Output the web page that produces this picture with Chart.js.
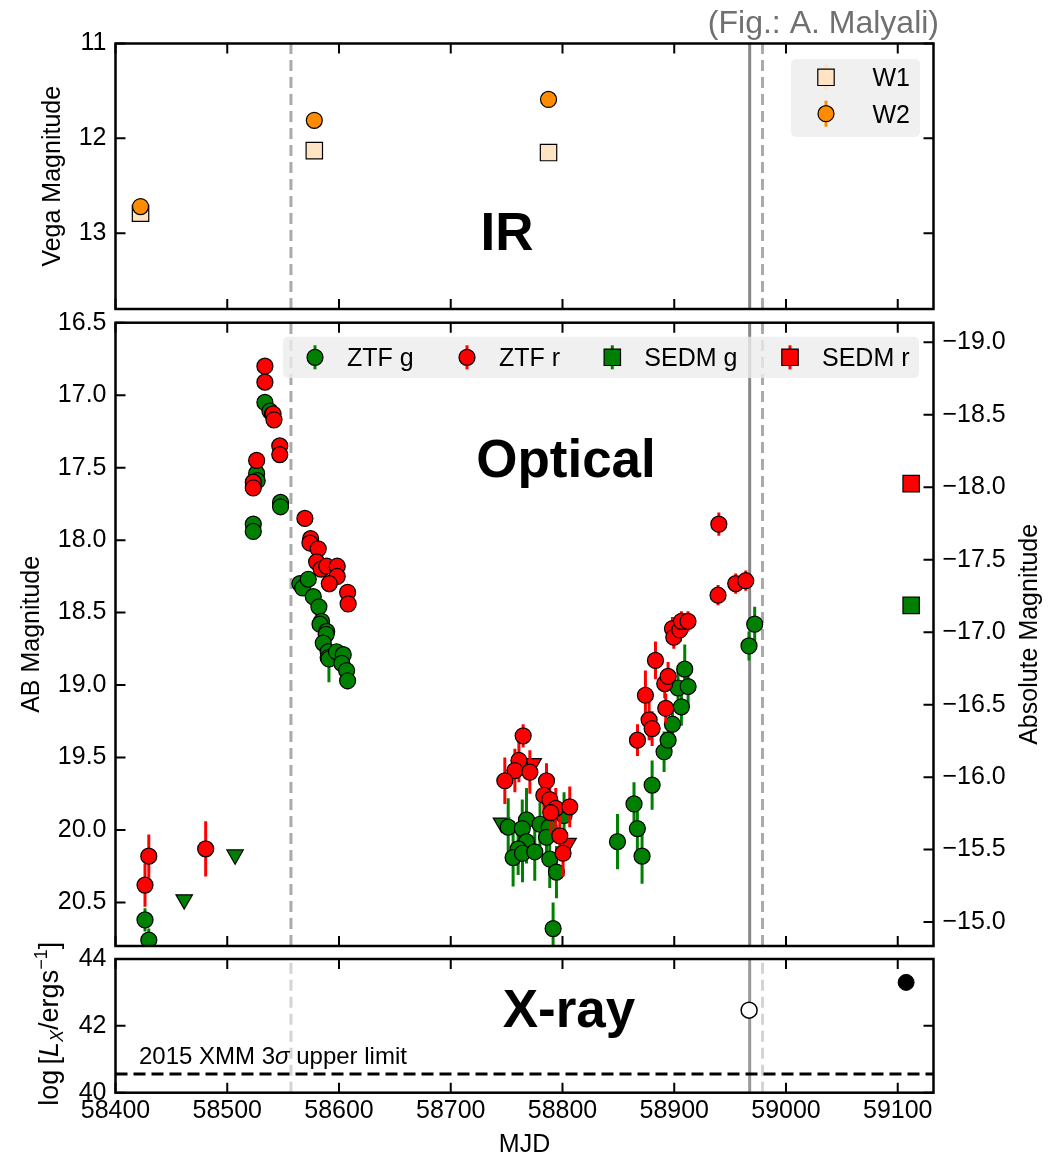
<!DOCTYPE html>
<html lang="en">
<head>
    <meta charset="UTF-8">
    <title>Multi-wavelength light curve</title>
    <script src="https://cdn.jsdelivr.net/npm/chart.js"></script>
    <style>
        body {
            margin: 0;
            background: #fff;
            overflow: hidden;
        }
        #wrap {
            position: relative;
            width: 1062px;
            height: 1156px;
        }
        canvas {
            position: absolute;
            left: 0;
        }
    </style>
</head>
<body>
<div id="wrap">
    <canvas id="irChart" width="1062" height="340" style="top:0px"></canvas>
    <canvas id="optChart" width="1062" height="690" style="top:290px"></canvas>
    <canvas id="xrayChart" width="1062" height="260" style="top:900px"></canvas>
</div>
<script>
// ---------------- data ----------------
const X_MIN = 58400, X_MAX = 59132;
const xTickValues = [58400, 58500, 58600, 58700, 58800, 58900, 59000, 59100];

// epochs marked by vertical lines
const dashedLineMJD = [58557, 58979];
const solidLineMJD = [58967.5];

// IR (WISE)
const irMJD = [58422.4, 58577.9, 58787.5];
const w1Mag = [12.79, 12.13, 12.15];
const w1Err = [0.03, 0.02, 0.02];
const w2Mag = [12.72, 11.81, 11.59];
const w2Err = [0.08, 0.03, 0.03];
const irRange = [11, 13.8];
const irTicks = [11, 12, 13];

// Optical (ZTF)
const ztfG_mjd = [58426.4, 58429.8, 58523.3, 58523.3, 58526.3, 58526.8, 58533.7, 58538.2, 58540.5, 58547.7, 58547.7,
    58565.0, 58567.5, 58572.5, 58577.0, 58582.0, 58584.4, 58583.0, 58589.0, 58588.5, 58585.9, 58590.3, 58590.3, 58591.0,
    58597.8, 58603.8, 58602.5, 58606.8, 58607.7,
    58751.4, 58767.8, 58764.0, 58779.9, 58788.0, 58785.7, 58767.8, 58760.3, 58755.8, 58764.2, 58775.2, 58788.6, 58794.6,
    58801.4, 58791.6,
    58849.2, 58864.0, 58867.0, 58871.2, 58880.2, 58890.9, 58894.5, 58898.4, 58903.4, 58906.4, 58909.4, 58912.4, 58966.9, 58972.0];
const ztfG_mag = [20.62, 20.76, 17.89, 17.94, 17.54, 17.59, 17.05, 17.11, 17.13, 17.74, 17.77,
    18.30, 18.33, 18.27, 18.39, 18.46, 18.56, 18.58, 18.63, 18.65, 18.71, 18.77, 18.81, 18.82,
    18.77, 18.79, 18.85, 18.90, 18.97,
    19.98, 19.93, 19.99, 19.96, 19.98, 20.05, 20.08, 20.13, 20.19, 20.16, 20.15, 20.20, 20.29,
    19.90, 20.68,
    20.08, 19.82, 19.99, 20.18, 19.69, 19.46, 19.38, 19.27, 19.02, 19.15, 18.89, 19.01, 18.73, 18.58];
const ztfG_err = [0.08, 0.08, 0.02, 0.02, 0.02, 0.02, 0.03, 0.02, 0.02, 0.02, 0.02,
    0.03, 0.03, 0.05, 0.03, 0.04, 0.04, 0.04, 0.04, 0.04, 0.05, 0.05, 0.06, 0.16,
    0.05, 0.06, 0.05, 0.05, 0.06,
    0.20, 0.22, 0.20, 0.15, 0.12, 0.15, 0.15, 0.18, 0.20, 0.20, 0.20, 0.20, 0.18,
    0.16, 0.18,
    0.19, 0.15, 0.15, 0.19, 0.17, 0.14, 0.13, 0.12, 0.13, 0.13, 0.17, 0.12, 0.10, 0.12];

const ztfR_mjd = [58426.4, 58429.8, 58480.7, 58533.7, 58533.7, 58541.0, 58541.8, 58547.0, 58547.0, 58526.3, 58523.3, 58523.3,
    58569.5, 58574.6, 58574.0, 58581.4, 58580.0, 58584.0, 58589.0, 58598.4, 58598.4, 58591.3, 58607.7, 58608.2,
    58764.8, 58761.0, 58757.4, 58770.8, 58748.4, 58785.7, 58783.3, 58788.6, 58794.0, 58806.5, 58789.5, 58797.6, 58800.5,
    58867.1, 58874.2, 58877.5, 58880.2, 58883.2, 58891.5, 58892.4, 58894.5, 58898.4, 58899.6, 58905.0, 58906.4, 58912.3,
    58939.2, 58939.9, 58955.0, 58964.0];
const ztfR_mag = [20.38, 20.18, 20.13, 16.80, 16.91, 17.13, 17.17, 17.35, 17.41, 17.45, 17.60, 17.64,
    17.85, 17.99, 18.02, 18.06, 18.15, 18.20, 18.18, 18.18, 18.25, 18.30, 18.36, 18.44,
    19.35, 19.52, 19.59, 19.60, 19.66, 19.66, 19.76, 19.79, 19.85, 19.84, 19.88, 20.04, 20.16,
    19.38, 19.07, 19.24, 19.30, 18.83, 18.99, 19.16, 18.94, 18.61, 18.67, 18.62, 18.56, 18.56,
    18.38, 17.89, 18.30, 18.28];
const ztfR_err = [0.15, 0.15, 0.19, 0.05, 0.03, 0.05, 0.04, 0.03, 0.03, 0.03, 0.03, 0.03,
    0.03, 0.05, 0.04, 0.04, 0.05, 0.05, 0.05, 0.04, 0.05, 0.06, 0.04, 0.04,
    0.08, 0.15, 0.15, 0.15, 0.16, 0.12, 0.12, 0.14, 0.14, 0.14, 0.14, 0.15, 0.16,
    0.11, 0.17, 0.14, 0.12, 0.13, 0.10, 0.10, 0.10, 0.08, 0.08, 0.08, 0.07, 0.07,
    0.07, 0.08, 0.07, 0.07];

// upper limits
const limG_mjd = [58461.5, 58507.0, 58745.4];
const limG_mag = [20.48, 20.17, 19.95];
const limR_mjd = [58773.8, 58805.0];
const limR_mag = [19.54, 20.09];

// SEDM
const sedmMJD = [59112];
const sedmG_mag = [18.45];
const sedmG_err = [0.02];
const sedmR_mag = [17.61];
const sedmR_err = [0.04];

const optRange = [16.5, 20.8];
const optTicks = [16.5, 17.0, 17.5, 18.0, 18.5, 19.0, 19.5, 20.0, 20.5];
const distMod = 35.635;
const absTicks = [-19.0, -18.5, -18.0, -17.5, -17.0, -16.5, -16.0, -15.5, -15.0];

// X-ray
const xrayOpenMJD = [58967.0];
const xrayOpenL = [42.47];
const xrayDetMJD = [59107.5];
const xrayDetL = [43.30];
const xmmLimit = 40.56;
const xrayRange = [40, 44];
const xrayTicks = [40, 42, 44];

// ---------------- helpers ----------------
const FAM = '"Liberation Sans", Arial, Helvetica, sans-serif';
Chart.defaults.font.family = FAM;
Chart.defaults.color = '#000';

const DOT = 8;      // circle radius
const BOX = 11.6;   // square "radius"

const pts = (xs, ys) => xs.map((x, i) => ({ x: x, y: ys[i] }));
const setTicks = values => scale => { scale.ticks = values.map(v => ({ value: v })); };

// vertical error bars, drawn just before each dataset's markers
const errorBarPlugin = {
    id: 'errorBars',
    beforeDatasetDraw(chart, args) {
        const ds = chart.data.datasets[args.index];
        if (!ds.errors) return;
        const { ctx, chartArea: a } = chart;
        const xs = chart.scales.x, ys = chart.scales[ds.yAxisID || 'y'];
        ctx.save();
        ctx.beginPath();
        ctx.rect(a.left, a.top, a.right - a.left, a.bottom - a.top);
        ctx.clip();
        ctx.strokeStyle = ds.errColor;
        ctx.lineWidth = 3;
        ctx.beginPath();
        ds.data.forEach((p, i) => {
            const e = ds.errors[i];
            if (!e) return;
            const px = xs.getPixelForValue(p.x);
            ctx.moveTo(px, ys.getPixelForValue(p.y - e));
            ctx.lineTo(px, ys.getPixelForValue(p.y + e));
        });
        ctx.stroke();
        ctx.restore();
    }
};
Chart.register(errorBarPlugin);

function marker(ctx, shape, x, y, r, fill, errColor, errLen) {
    ctx.save();
    if (errLen) {
        ctx.strokeStyle = errColor;
        ctx.lineWidth = 3;
        ctx.beginPath();
        ctx.moveTo(x, y - errLen);
        ctx.lineTo(x, y + errLen);
        ctx.stroke();
    }
    ctx.fillStyle = fill;
    ctx.strokeStyle = '#000';
    ctx.lineWidth = 1.2;
    ctx.beginPath();
    if (shape === 'rect') {
        const s = r * Math.SQRT1_2;
        ctx.rect(x - s, y - s, 2 * s, 2 * s);
    } else {
        ctx.arc(x, y, r, 0, Math.PI * 2);
    }
    ctx.fill();
    ctx.stroke();
    ctx.restore();
}

function legendBox(ctx, x, y, w, h) {
    ctx.save();
    ctx.fillStyle = 'rgba(236,236,236,0.8)';
    ctx.beginPath();
    if (ctx.roundRect) ctx.roundRect(x, y, w, h, 5); else ctx.rect(x, y, w, h);
    ctx.fill();
    ctx.restore();
}

function text(ctx, str, x, y, font, align, color) {
    ctx.save();
    ctx.font = font;
    ctx.textAlign = align || 'left';
    ctx.textBaseline = 'alphabetic';
    ctx.fillStyle = color || '#000';
    ctx.fillText(str, x, y);
    ctx.restore();
}

// epoch lines, frame, inward ticks and extra drawing for one panel
function decor(o) {
    return {
        id: 'decor',
        beforeDatasetsDraw(chart) {
            const { ctx, chartArea: a } = chart;
            const xs = chart.scales.x;
            ctx.save();
            ctx.lineWidth = 3;
            ctx.strokeStyle = o.dashColor;
            ctx.setLineDash([11, 6]);
            dashedLineMJD.forEach(m => {
                const px = xs.getPixelForValue(m);
                ctx.beginPath(); ctx.moveTo(px, a.bottom); ctx.lineTo(px, a.top); ctx.stroke();
            });
            ctx.setLineDash([]);
            ctx.strokeStyle = o.solidColor;
            solidLineMJD.forEach(m => {
                const px = xs.getPixelForValue(m);
                ctx.beginPath(); ctx.moveTo(px, a.bottom); ctx.lineTo(px, a.top); ctx.stroke();
            });
            ctx.restore();
        },
        afterDatasetsDraw(chart) {
            const { ctx, chartArea: a } = chart;
            const xs = chart.scales.x;
            const L = chart.scales[o.left.id], R = chart.scales[o.right.id];
            ctx.save();
            ctx.strokeStyle = '#000';
            ctx.lineWidth = 2;
            ctx.beginPath();
            xTickValues.forEach(v => {
                const px = xs.getPixelForValue(v);
                ctx.moveTo(px, a.top); ctx.lineTo(px, a.top + 10);
                ctx.moveTo(px, a.bottom); ctx.lineTo(px, a.bottom - 10);
            });
            o.left.ticks.forEach(v => {
                const py = L.getPixelForValue(v);
                ctx.moveTo(a.left, py); ctx.lineTo(a.left + 10, py);
            });
            o.right.ticks.forEach(v => {
                const py = R.getPixelForValue(v);
                ctx.moveTo(a.right, py); ctx.lineTo(a.right - 10, py);
            });
            ctx.stroke();
            ctx.lineWidth = 2.5;
            ctx.strokeRect(a.left, a.top, a.right - a.left, a.bottom - a.top);
            ctx.restore();
            if (o.draw) o.draw(chart, ctx, a);
        }
    };
}

function common(padding) {
    return {
        responsive: false,
        animation: false,
        devicePixelRatio: 1,
        events: [],
        layout: { padding: padding },
        plugins: { legend: { display: false }, tooltip: { enabled: false } }
    };
}

function xScale(show) {
    return {
        type: 'linear', min: X_MIN, max: X_MAX, display: show,
        grid: { display: false, drawTicks: false }, border: { display: false },
        afterBuildTicks: setTicks(xTickValues),
        ticks: { font: { size: 25 }, padding: 3, maxRotation: 0, autoSkip: false, callback: v => String(v) },
        title: { display: show, text: 'MJD', font: { size: 25, lineHeight: 1.2 }, padding: { top: 0, bottom: 0 } },
        afterFit: s => { if (show) s.height = 67.3; }
    };
}

function yScale(o) {
    return {
        type: 'linear', position: o.position || 'left', reverse: o.reverse, min: o.range[0], max: o.range[1],
        grid: { display: false, drawTicks: false }, border: { display: false },
        afterBuildTicks: setTicks(o.ticks),
        ticks: { font: { size: 25 }, padding: 9, autoSkip: false, callback: o.format },
        title: o.title
            ? { display: true, text: o.title, font: { size: 25, lineHeight: 1.2 }, padding: { top: o.titlePad, bottom: 0 } }
            : { display: false },
        afterFit: s => { s.width = o.width; }
    };
}

const fmt1 = v => v.toFixed(1);
const fmtAbs = v => (v < 0 ? '\u2212' : '') + Math.abs(v).toFixed(1);

// ---------------- IR panel ----------------
new Chart(document.getElementById('irChart'), {
    type: 'scatter',
    data: {
        datasets: [
            { label: 'W2', data: pts(irMJD, w2Mag), errors: w2Err, errColor: '#ff8c00',
              pointStyle: 'circle', pointRadius: DOT, backgroundColor: '#ff8c00', borderColor: '#000', borderWidth: 1.2 },
            { label: 'W1', data: pts(irMJD, w1Mag), errors: w1Err, errColor: '#ffe4c4',
              pointStyle: 'rect', pointRadius: BOX, backgroundColor: '#ffe4c4', borderColor: '#000', borderWidth: 1.2 }
        ]
    },
    options: Object.assign(common({ top: 43.5, right: 128.5, bottom: 31, left: 0 }), {
        scales: {
            x: xScale(false),
            y: yScale({ range: irRange, reverse: true, ticks: irTicks, format: v => String(v),
                        title: 'Vega Magnitude', titlePad: 38, width: 115.5 })
        }
    }),
    plugins: [decor({
        dashColor: '#aaaaaa', solidColor: '#888888',
        left: { id: 'y', ticks: irTicks }, right: { id: 'y', ticks: irTicks },
        draw(chart, ctx, a) {
            legendBox(ctx, a.right - 142.5, a.top + 15.5, 129, 78);
            marker(ctx, 'rect', a.right - 107.5, a.top + 33.8, BOX, '#ffe4c4', '#ffe4c4', 13);
            marker(ctx, 'circle', a.right - 107.5, a.top + 70.2, DOT, '#ff8c00', '#ff8c00', 13);
            text(ctx, 'W1', a.right - 61, a.top + 42.8, '25px ' + FAM);
            text(ctx, 'W2', a.right - 61, a.top + 79.2, '25px ' + FAM);
            text(ctx, 'IR', a.left + 391.5, a.top + 206.5, 'bold 53px ' + FAM, 'center');
            text(ctx, '(Fig.: A. Malyali)', 939, 33, '32px ' + FAM, 'right', '#707070');
        }
    })]
});

// ---------------- Optical panel ----------------
new Chart(document.getElementById('optChart'), {
    type: 'scatter',
    data: {
        datasets: [
            { label: 'SEDM r', data: pts(sedmMJD, sedmR_mag), errors: sedmR_err, errColor: '#ff0000',
              pointStyle: 'rect', pointRadius: BOX, backgroundColor: '#ff0000', borderColor: '#000', borderWidth: 1.2 },
            { label: 'SEDM g', data: pts(sedmMJD, sedmG_mag), errors: sedmG_err, errColor: '#008000',
              pointStyle: 'rect', pointRadius: BOX, backgroundColor: '#008000', borderColor: '#000', borderWidth: 1.2 },
            { label: 'ZTF r', data: pts(ztfR_mjd, ztfR_mag), errors: ztfR_err, errColor: '#ff0000',
              pointStyle: 'circle', pointRadius: DOT, backgroundColor: '#ff0000', borderColor: '#000', borderWidth: 1.2 },
            { label: 'ZTF r limit', data: pts(limR_mjd, limR_mag),
              pointStyle: 'triangle', rotation: 180, pointRadius: 9.5, backgroundColor: '#ff0000', borderColor: '#000', borderWidth: 1.2 },
            { label: 'ZTF g', data: pts(ztfG_mjd, ztfG_mag), errors: ztfG_err, errColor: '#008000',
              pointStyle: 'circle', pointRadius: DOT, backgroundColor: '#008000', borderColor: '#000', borderWidth: 1.2 },
            { label: 'ZTF g limit', data: pts(limG_mjd, limG_mag),
              pointStyle: 'triangle', rotation: 180, pointRadius: 9.5, backgroundColor: '#008000', borderColor: '#000', borderWidth: 1.2 }
        ]
    },
    options: Object.assign(common({ top: 32.7, right: 0, bottom: 34, left: 0 }), {
        scales: {
            x: xScale(false),
            y: yScale({ range: optRange, reverse: true, ticks: optTicks, format: fmt1,
                        title: 'AB Magnitude', titlePad: 17, width: 115.5 }),
            y2: yScale({ position: 'right', range: [optRange[0] - distMod, optRange[1] - distMod], reverse: true,
                         ticks: absTicks, format: fmtAbs, width: 128.5 })
        }
    }),
    plugins: [decor({
        dashColor: '#aaaaaa', solidColor: '#888888',
        left: { id: 'y', ticks: optTicks }, right: { id: 'y2', ticks: absTicks },
        draw(chart, ctx, a) {
            const ly = a.top + 34.6;
            legendBox(ctx, a.left + 167.5, a.top + 14, a.right - 14.5 - (a.left + 167.5), 41.3);
            const items = [
                ['circle', 199.5, '#008000', 'ZTF g'],
                ['circle', 351.5, '#ff0000', 'ZTF r'],
                ['rect', 496.8, '#008000', 'SEDM g'],
                ['rect', 674.5, '#ff0000', 'SEDM r']
            ];
            items.forEach(it => {
                marker(ctx, it[0], a.left + it[1], ly, it[0] === 'rect' ? BOX : DOT, it[2], it[2], 12);
                text(ctx, it[3], a.left + it[1] + 32, ly + 9, '25px ' + FAM);
            });
            text(ctx, 'Optical', a.left + 450.5, a.top + 154.3, 'bold 53px ' + FAM, 'center');
            // right-hand axis title, reading bottom to top
            ctx.save();
            ctx.translate(1037, (a.top + a.bottom) / 2);
            ctx.rotate(-Math.PI / 2);
            text(ctx, 'Absolute Magnitude', 0, 0, '25px ' + FAM, 'center');
            ctx.restore();
        }
    })]
});

// ---------------- X-ray panel ----------------
new Chart(document.getElementById('xrayChart'), {
    type: 'scatter',
    data: {
        datasets: [
            { label: 'XMM 2015 limit', data: [{ x: X_MIN, y: xmmLimit }, { x: X_MAX, y: xmmLimit }],
              showLine: true, borderColor: '#000', borderWidth: 3, borderDash: [12, 6], pointRadius: 0 },
            { label: 'X-ray detection', data: pts(xrayDetMJD, xrayDetL),
              pointStyle: 'circle', pointRadius: DOT, backgroundColor: '#000', borderColor: '#000', borderWidth: 1 },
            { label: 'X-ray', data: pts(xrayOpenMJD, xrayOpenL),
              pointStyle: 'circle', pointRadius: DOT, backgroundColor: '#fff', borderColor: '#000', borderWidth: 1.5 }
        ]
    },
    options: Object.assign(common({ top: 59, right: 128.5, bottom: 0, left: 0 }), {
        scales: {
            x: xScale(true),
            y: yScale({ range: xrayRange, reverse: false, ticks: xrayTicks, format: v => String(v), width: 115.5 })
        }
    }),
    plugins: [decor({
        dashColor: 'rgba(170,170,170,0.5)', solidColor: '#999999',
        left: { id: 'y', ticks: xrayTicks }, right: { id: 'y', ticks: xrayTicks },
        draw(chart, ctx, a) {
            text(ctx, 'X-ray', a.left + 453.5, a.top + 68, 'bold 53px ' + FAM, 'center');
            // "2015 XMM 3σ upper limit" with italic sigma
            ctx.save();
            let x = a.left + 23.5;
            const y = a.top + 105;
            [['2015 XMM 3', '24px '], ['\u03c3', 'italic 24px '], [' upper limit', '24px ']].forEach(p => {
                ctx.font = p[1] + FAM;
                text(ctx, p[0], x, y, p[1] + FAM);
                x += ctx.measureText(p[0]).width;
            });
            ctx.restore();
            // y-axis title log[L_X / erg s^-1]
            const parts = [
                ['log\u2009[', '27px ', 0], ['L', 'italic 27px ', 0], ['X', 'italic 18px ', 5],
                ['/ergs', '27px ', 0], ['\u22121', '18px ', -11], [']', '27px ', 0]
            ];
            ctx.save();
            let total = 0;
            parts.forEach(p => { ctx.font = p[1] + FAM; total += ctx.measureText(p[0]).width; });
            ctx.translate(58, (a.top + a.bottom) / 2 - 2);
            ctx.rotate(-Math.PI / 2);
            let px = -total / 2;
            parts.forEach(p => {
                ctx.font = p[1] + FAM;
                text(ctx, p[0], px, p[2], p[1] + FAM);
                px += ctx.measureText(p[0]).width;
            });
            ctx.restore();
        }
    })]
});
</script>
</body>
</html>
